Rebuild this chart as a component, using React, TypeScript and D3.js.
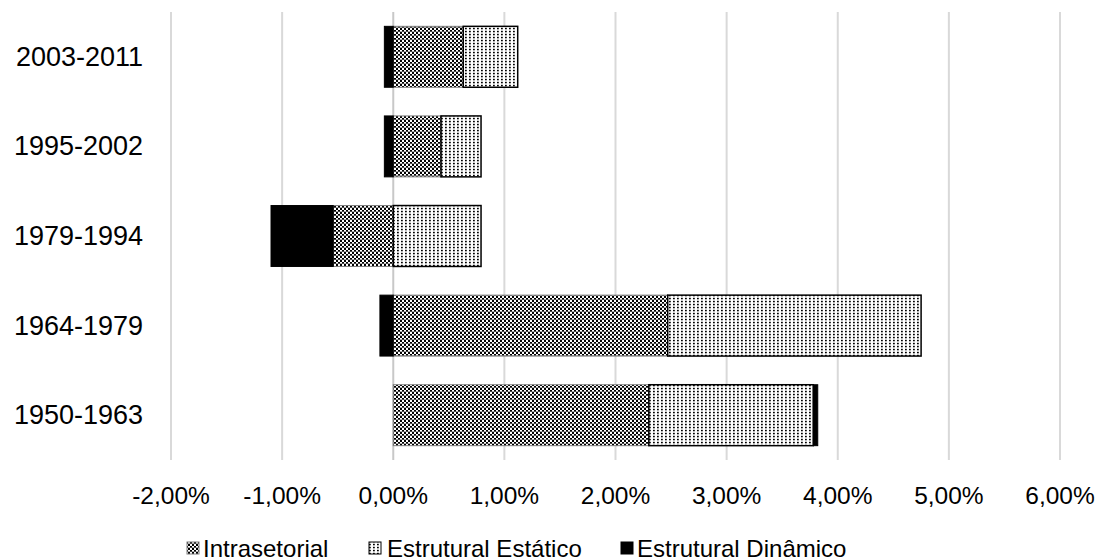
import React from "react";
import * as d3 from "d3";

// Periods, listed top to bottom
const periods = ["2003-2011", "1995-2002", "1979-1994", "1964-1979", "1950-1963"];
// Growth components, in percent
const intrasetorial = [0.63, 0.43, -0.54, 2.47, 2.3];
const estruturalEstatico = [0.49, 0.36, 0.79, 2.28, 1.48];
const estruturalDinamico = [-0.08, -0.08, -0.56, -0.12, 0.04];
const tickValues = [-2, -1, 0, 1, 2, 3, 4, 5, 6];
const seriesNames = ["Intrasetorial", "Estrutural Estático", "Estrutural Dinâmico"];

const W = 1102;
const H = 560;
const FONT = "'Liberation Sans', Arial, sans-serif";

const fills = ["url(#pat-check)", "url(#pat-dots)", "#000"];
const strokes = ["#7f7f7f", "#000", "#000"];

export default function App() {
  const x = d3.scaleLinear().domain([-2, 6]).range([171, 1060]);
  const y = d3.scaleBand<string>().domain(periods).range([12, 460]).paddingInner(0.32).paddingOuter(0.16);

  const rows = periods.map((p, i) => ({
    period: p,
    [seriesNames[0]]: intrasetorial[i],
    [seriesNames[1]]: estruturalEstatico[i],
    [seriesNames[2]]: estruturalDinamico[i],
  }));
  const stacked = d3
    .stack<any>()
    .keys(seriesNames)
    .offset(d3.stackOffsetDiverging)(rows);

  const fmt = (v: number) => v.toFixed(2).replace(".", ",") + "%";

  // legend swatch and label positions
  const legendItems = [
    { x: 187, textX: 203 },
    { x: 369, textX: 387 },
    { x: 621, textX: 637 },
  ];

  return (
    <svg width={W} height={H} style={{ position: "absolute", left: 0, top: 0, background: "#fff" }}>
      <defs>
        <pattern id="pat-check" patternUnits="userSpaceOnUse" width={4} height={4}>
          <rect width={4} height={4} fill="#fff" />
          <rect x={0} y={0} width={2} height={2} fill="#000" />
          <rect x={2} y={2} width={2} height={2} fill="#000" />
          <rect x={0} y={3.4} width={4} height={0.6} fill="#777" />
        </pattern>
        <pattern id="pat-dots" patternUnits="userSpaceOnUse" width={4} height={3}>
          <rect width={4} height={3} fill="#fff" />
          <rect x={1} y={0.8} width={1.8} height={1.5} fill="#000" />
        </pattern>
      </defs>

      {/* vertical gridlines */}
      {tickValues.map((t) => (
        <line
          key={t}
          x1={x(t)}
          x2={x(t)}
          y1={12}
          y2={460}
          stroke={t === 0 ? "#c8c8c8" : "#d9d9d9"}
          strokeWidth={2}
        />
      ))}

      {/* stacked bars */}
      {stacked.map((s, si) =>
        s.map((d, i) => {
          const x0 = x(Math.min(d[0], d[1]));
          const x1 = x(Math.max(d[0], d[1]));
          const w = x1 - x0;
          if (w <= 0) return null;
          return (
            <rect
              key={`${si}-${i}`}
              x={x0}
              y={y(periods[i])!}
              width={w}
              height={y.bandwidth()}
              fill={fills[si]}
              stroke={strokes[si]}
              strokeWidth={si === 1 ? 1.5 : 1}
            />
          );
        })
      )}

      {/* category labels */}
      {periods.map((p) => (
        <text
          key={p}
          x={143}
          y={y(p)! + y.bandwidth() / 2}
          textAnchor="end"
          dominantBaseline="central"
          fontFamily={FONT}
          fontSize={27}
          fill="#000"
        >
          {p}
        </text>
      ))}

      {/* value axis labels */}
      {tickValues.map((t) => (
        <text
          key={t}
          x={x(t)}
          y={495}
          textAnchor="middle"
          dominantBaseline="central"
          fontFamily={FONT}
          fontSize={24.5}
          fill="#000"
        >
          {fmt(t)}
        </text>
      ))}

      {/* legend */}
      {seriesNames.map((name, i) => (
        <g key={name}>
          <rect
            x={legendItems[i].x}
            y={542}
            width={12}
            height={12}
            fill={fills[i]}
            stroke={strokes[i]}
            strokeWidth={1}
          />
          <text
            x={legendItems[i].textX}
            y={548}
            dominantBaseline="central"
            fontFamily={FONT}
            fontSize={24}
            fill="#000"
          >
            {name}
          </text>
        </g>
      ))}
    </svg>
  );
}
